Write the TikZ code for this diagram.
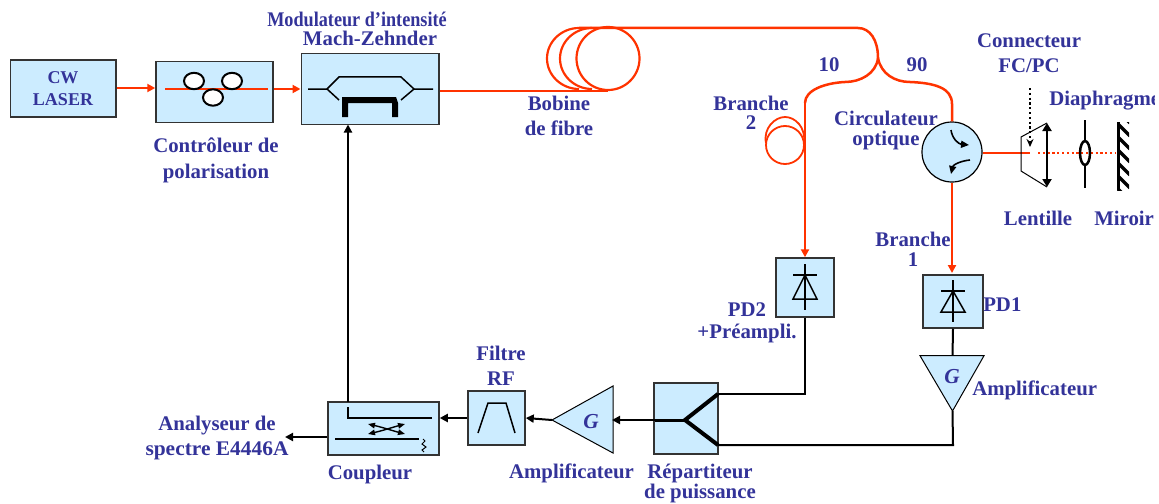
\documentclass[tikz,border=0pt]{standalone}
\usepackage{fontspec}
\setmainfont{Liberation Serif}
\usetikzlibrary{arrows.meta}
\definecolor{boxblue}{HTML}{CCECFF}
\definecolor{txtblue}{HTML}{333399}
\definecolor{fibre}{HTML}{FF3300}
\definecolor{edge}{HTML}{333333}
\def\px{0.75pt}
\tikzset{
  x=0.75pt,y=-0.75pt,
  lbl/.style={font=\fontsize{15.6}{#1}\selectfont\bfseries,text=txtblue,inner sep=0pt,align=center},
  lbl/.default=18.75,
  ibox/.style 2 args={draw=edge,line width=1.5*\px,fill=boxblue,inner sep=0pt,minimum width=#1*\px,minimum height=#2*\px},
  fib/.style={draw=fibre,line width=2*\px},
  fibthick/.style={draw=fibre,line width=2.5*\px},
  fibarrow/.style={fibthick,-{Triangle[length=8*\px,width=8*\px]}},
  sig/.style={draw=black,line width=2*\px},
  sigarrow/.style={sig,-{Triangle[length=8*\px,width=8*\px]}},
  inner/.style={draw=black,line width=1.5*\px},
  heavy/.style={draw=black,line width=4*\px},
  ampl/.style={draw=black,line width=1*\px,fill=boxblue},
  gain/.style={font=\fontsize{16}{16}\selectfont\bfseries\itshape,text=txtblue,inner sep=0pt},
}
\begin{document}
\begin{tikzpicture}
\useasboundingbox (0,0) rectangle (1159,503);
\clip (0,0) rectangle (1154,503);

% boxes
\node[ibox={105.5}{57}] (laser) at (63.25,88.5) {};
\node[ibox={117}{60.5}] (ctrl) at (214.5,92) {};
\node[ibox={137.5}{70.5}] (mz) at (370,89) {};
\node[ibox={58}{59}] (pd2) at (805,287.5) {};
\node[ibox={60}{53}] (pd1) at (953,301.5) {};
\node[ibox={64}{71}] (split) at (686,418.5) {};
\node[ibox={57}{54}] (filt) at (496.5,418) {};
\node[ibox={111}{53}] (coup) at (383.5,428.5) {};
\node[draw=black,line width=1.2*\px,fill=boxblue,circle,inner sep=0pt,minimum size=60*\px] (circ) at (952,152) {};

% amplifiers
\coordinate (a1l) at (920,355.7);
\coordinate (a1r) at (984,355.7);
\coordinate (a1tip) at (952.5,411);
\coordinate (a1top) at (952.5,355.7);
\draw[ampl] (a1l) -- (a1r) -- (a1tip) -- cycle;
\coordinate (a2tip) at (552,420);
\coordinate (a2t) at (613,386);
\coordinate (a2b) at (613,453);
\coordinate (a2back) at (612,420);
\draw[ampl] (a2tip) -- (a2t) -- (a2b) -- cycle;
\node[gain] (g1) at (952,376.5) {G};
\node[gain] (g2) at (591,422) {G};

% laser + polarisation
\draw[fibarrow] (laser.east |- 0,88) -- (ctrl.west |- 0,88);
\coordinate (pin) at (165,89);
\coordinate (pout) at (268,89);
\draw[fibthick] (pin) -- (pout);
\draw[line width=2*\px,fill=white] (194,81) ellipse [x radius=10*\px,y radius=8.2*\px];
\draw[line width=2*\px,fill=white] (232,81) ellipse [x radius=10*\px,y radius=8.2*\px];
\draw[line width=2*\px,fill=white] (213,97.5) ellipse [x radius=10*\px,y radius=8.2*\px];
\draw[fibarrow] (ctrl.east |- 0,89) -- (mz.west |- 0,89);

% Mach-Zehnder interior
\draw[inner] (308,89) -- (327,89) -- (339,77) -- (401,77) -- (414,89) -- (433,89);
\draw[inner] (327,89) -- (339,100);
\draw[inner] (414,89) -- (401,100);
\fill (342,117) -- (342,97) -- (396,97) -- (398,103) -- (398,117) -- (392,117) -- (392,103) -- (348,103) -- (348,117) -- cycle;

% fibre spool and splitter
\coordinate (c1top) at (579,28);
\coordinate (c1bot) at (579,89);
\coordinate (c2top) at (592,28);
\coordinate (c2bot) at (592,89);
\draw[fib,line width=2.2*\px] (c1top) .. controls (561.5,28) and (547,41.7) .. (547,58.5) .. controls (547,75.3) and (561.5,89) .. (c1bot);
\draw[fib,line width=2.2*\px] (c2top) .. controls (574.5,28) and (560,41.7) .. (560,58.5) .. controls (560,75.3) and (574.5,89) .. (c2bot);
\node[draw=fibre,line width=2.2*\px,circle,inner sep=0pt,minimum size=63*\px] (spool) at (608,58.5) {};
\draw[fibthick] (mz.east |- spool.south) -- (spool.south);
\coordinate (bend) at (878,58);
\draw[fibthick,line cap=round] (c1top) -- (858,28) .. controls (870,28) and (878,40) .. (bend);
\coordinate (b2) at (805,103);
\draw[fibthick] (bend) .. controls (876,74) and (860,82) .. (845,82) .. controls (825,83) and (805,90) .. (b2);
\draw[fibthick] (bend) .. controls (881,74) and (895,82) .. (910,82) .. controls (935,83) and (952,88) .. (952,104) -- (circ.north);

% branch 2 coil
\node[draw=fibre,line width=1.8*\px,circle,inner sep=0pt,minimum size=38*\px] (coil) at (785,145) {};
\draw[fib,line width=1.8*\px] (766,143) .. controls (763,128) and (775,117) .. (785,117) .. controls (795,117) and (806,127) .. (804,143);
\draw[fibarrow] (b2) -- (pd2.north);
\draw[fibarrow] (circ.south) -- (circ.south |- 0,273);

% diodes
\draw[inner] (805,264) -- (805,310);
\draw[inner] (793,275) -- (817,275);
\draw[inner] (805,275) -- (793,299) -- (817,299) -- cycle;
\draw[inner] (953,280) -- (953,322);
\draw[inner] (941,291) -- (965,291);
\draw[inner] (953,291) -- (941,312) -- (965,312) -- cycle;

% circulator interior
\draw[line width=1.6*\px,-{Triangle[length=8*\px,width=7*\px]}] (951,130) .. controls (952,138) and (958,144) .. (969,145);
\draw[line width=1.6*\px,-{Triangle[length=8*\px,width=7*\px]}] (970,160) .. controls (960,161) and (953,165) .. (951,174);

% free-space part
\coordinate (fcend) at (1030,153);
\draw[fibthick] (circ.east |- 0,153) -- (fcend);
\draw[draw=black,line width=1*\px] (1047,123) -- (1021,137) -- (1021,171) -- (1047,187);
\draw[draw=fibre,line width=2.2*\px,dash pattern=on 2.2*\px off 2.6*\px] (1038,153) -- (1116,153);
\draw[line width=2.5*\px,{Triangle[length=8*\px,width=9*\px]}-{Triangle[length=8*\px,width=9*\px]}] (1047,123) -- (1047,187);
\draw[line width=2.2*\px,dash pattern=on 2.2*\px off 2.6*\px,-{Stealth[length=8*\px,width=7*\px]}] (1030,88) -- (1030,147);
\draw[line width=2.8*\px] (1085,120) -- (1085,141);
\draw[line width=2.8*\px] (1085,165) -- (1085,188);
\draw[line width=2.5*\px] (1085,153) ellipse [x radius=5*\px,y radius=12*\px];
\begin{scope}
\clip (1117,122) rectangle (1129,190);
\foreach \yy in {111,124,137,150,163,176,189}{\draw[line width=3.5*\px] (1118,\yy) -- (1130,\yy+12);}
\end{scope}
\draw[line width=3.5*\px] (1118.5,122) -- (1118.5,190);

% electrical path
\coordinate (ytop) at (718,394);
\coordinate (ybot) at (718,445);
\coordinate (yc) at (685,420);
\draw[sig] (pd1.south) -- (a1top);
\draw[sig] (pd2.south) -- (805,394) -- (ytop);
\draw[sig] (a1tip) -- (953,445) -- (ybot);
\draw[heavy] (ytop) -- (yc) -- (ybot);
\draw[line width=3*\px] (yc) -- (655,420);
\draw[sigarrow] (yc) -- (a2back);
\draw[sigarrow] (a2tip) -- (filt.east);
\draw[sigarrow] (filt.west) -- (coup.east |- filt.west);
\draw[sigarrow] (348,402) -- (348,124.5);
\coordinate (spec) at (285,437);
\draw[sigarrow] (coup.west |- spec) -- (spec);

% filter interior
\draw[inner] (478,433) -- (488,403) -- (506,403) -- (515,433);

% coupler interior
\draw[inner] (348,407) -- (348,418) -- (432,418);
\draw[inner] (335,439) -- (419,439);
\draw[line width=1*\px] (423,439) -- (425,441) -- (422,444) -- (426,447) -- (422,450) -- (424,452);
\draw[line width=1.4*\px,{Triangle[length=7*\px,width=5.5*\px]}-{Triangle[length=7*\px,width=5.5*\px]}] (368,424) .. controls (385,428) and (390,430) .. (405,434);
\draw[line width=1.4*\px,{Triangle[length=7*\px,width=5.5*\px]}-{Triangle[length=7*\px,width=5.5*\px]}] (368,434) .. controls (385,430) and (390,428) .. (405,424);

% labels
\node[lbl=16.5,font=\fontsize{13.5}{16.5}\selectfont\bfseries] (tl) at (63,89) {CW\\LASER};
\node[lbl] (tm) at (357,19) {\scalebox{0.875}[1]{Modulateur d’intensité}};
\node[lbl] (tm2) at (370,38) {Mach-Zehnder};
\node[lbl=19.5] (tc) at (216,160) {Contrôleur de\\polarisation};
\node[lbl] (tb) at (559,115.5) {Bobine\\de fibre};
\node[lbl] (t10) at (829,65) {10};
\node[lbl] (t90) at (917,65) {90};
\node[lbl=14.5] (tb2) at (751,113) {Branche\\2};
\node[lbl] (tf) at (1029,53.5) {Connecteur\\FC/PC};
\node[lbl,anchor=west] (td) at (1049,101) {Diaphragme};
\node[lbl=15] (to) at (886,130.5) {Circulateur\\optique};
\node[lbl] (tle) at (1038,218) {Lentille};
\node[lbl,anchor=west] (tmi) at (1094,218) {Miroir};
\node[lbl=15] (tb1) at (913,249) {Branche\\1};
\node[lbl,anchor=west] (tp1) at (983,305) {PD1};
\node[lbl=16.5] (tp2) at (747,323) {PD2\\+Préampli.};
\node[lbl,anchor=west] (ta1) at (972,390) {Amplificateur};
\node[lbl] (tfi) at (501,365.5) {Filtre\\RF};
\node[lbl] (tan) at (217,438) {Analyseur de\\\scalebox{1.03}[1]{spectre E4446A}};
\node[lbl] (tco) at (370,474) {Coupleur};
\node[lbl] (ta2) at (571.5,473.5) {Amplificateur};
\node[lbl=14.5] (tr) at (700,483.5) {Répartiteur\\de puissance};
\end{tikzpicture}
\end{document}
